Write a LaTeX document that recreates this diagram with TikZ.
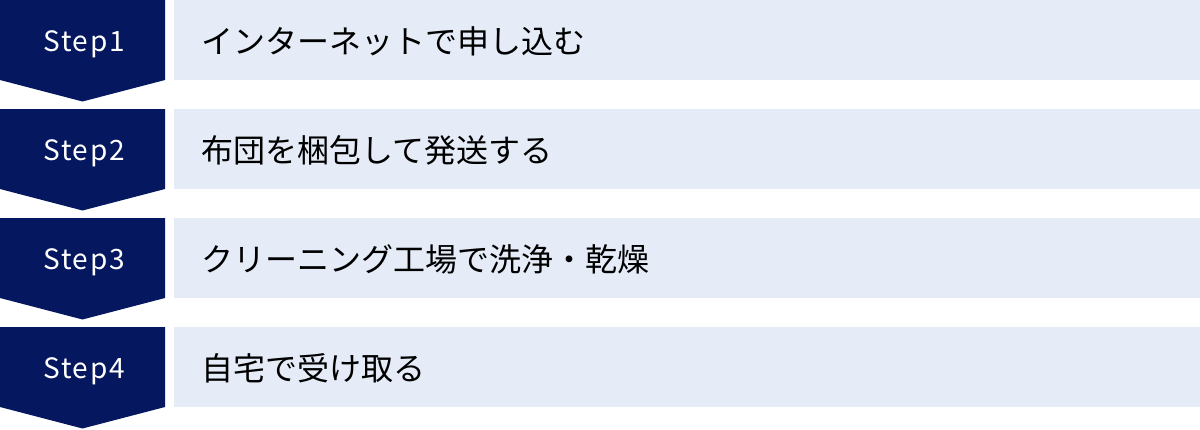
\documentclass[tikz,border=0pt]{standalone}
\usepackage{fontspec}
\setmainfont{Noto Sans CJK JP}
\newfontfamily\stepfont[LetterSpace=6]{Noto Sans CJK JP}
\definecolor{navy}{HTML}{05185F}
\definecolor{pale}{HTML}{E5ECF8}
\begin{document}
\begin{tikzpicture}[x=1pt,y=-1pt]
\tikzset{
  paleBox/.style={fill=pale,draw=none},
  stepLabel/.style={text=white,font=\stepfont\fontsize{28}{32}\selectfont,anchor=center},
  taskLabel/.style={text=black,font=\fontsize{32}{36}\selectfont,anchor=west,inner sep=0pt}
}
\useasboundingbox (0,0) rectangle (1200,429);
\foreach \i/\t [count=\n from 0] in {1/インターネットで申し込む,2/布団を梱包して発送する,3/クリーニング工場で洗浄・乾燥,4/自宅で受け取る}{
  \pgfmathsetmacro{\yy}{\n*109}
  \fill[navy] (0,\yy) -- (165,\yy) -- (165,\yy+80) -- (82.5,\yy+101.5) -- (0,\yy+80) -- cycle;
  \node[stepLabel] (s\i) at (84,\yy+44) {Step\i};
  \fill[paleBox] (174,\yy) rectangle (1200,\yy+80);
  \node[taskLabel] (t\i) at (201,\yy+41) {\t};
}
\end{tikzpicture}
\end{document}
